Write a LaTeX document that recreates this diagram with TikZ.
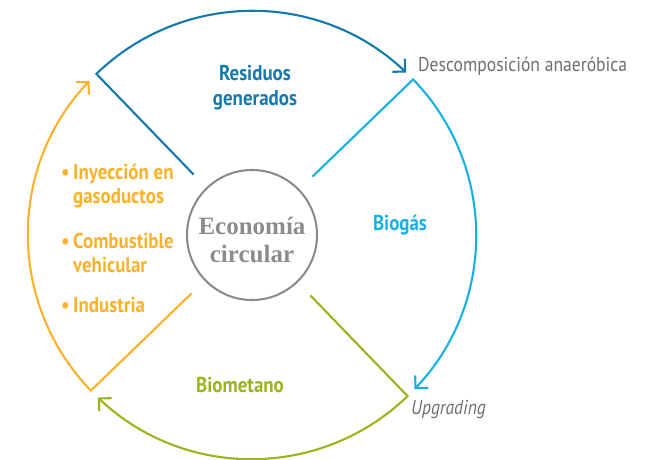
\documentclass[tikz,border=0pt]{standalone}
\usepackage{fontspec}
\setmainfont{PT Sans}[FakeStretch=0.88]
\newfontfamily\ecoserif{Liberation Serif}
\usetikzlibrary{arrows.meta,calc}
\definecolor{cDark}{HTML}{1479AC}
\definecolor{cLight}{HTML}{16B1E3}
\definecolor{cGreen}{HTML}{9AB41A}
\definecolor{cYellow}{HTML}{FBB229}
\definecolor{cGray}{HTML}{8C8C8C}
\definecolor{cText}{HTML}{6D6E71}
\begin{document}
\begin{tikzpicture}[x=1pt,y=1pt,
  seg/.style={line width=2.1pt,-{Straight Barb[length=9pt,width=18pt]}},
  lab/.style={font=\bfseries\fontsize{21.5}{25}\selectfont,align=center,inner sep=0pt},
  bul/.style={font=\bfseries\fontsize{21.5}{24}\selectfont,align=left,anchor=west,inner sep=0pt,text=cYellow},
  note/.style={font=\fontsize{20}{24}\selectfont,anchor=west,inner sep=0pt,text=cText}]
\useasboundingbox (0,0) rectangle (651,460);
\coordinate (C) at (252,225);
\node[circle,draw=cGray,line width=2.1pt,minimum size=130pt,inner sep=0pt] (eco) at (C) {};
\node[font=\ecoserif\bfseries\fontsize{25}{28}\selectfont,align=center,text=cGray,inner sep=0pt] (ecot) at (252,220) {Economía\\circular};
% sectors
\coordinate (a1) at ($(C)+(134:84)$);  \coordinate (a2) at ($(C)+(134:224)$);
\coordinate (b1) at ($(C)+(44:84)$);   \coordinate (b2) at ($(C)+(44:224)$);
\coordinate (c1) at ($(C)+(-46:84)$);  \coordinate (c2) at ($(C)+(-46:224)$);
\coordinate (e1) at ($(C)+(224:84)$);  \coordinate (e2) at ($(C)+(224:224)$);
\draw[seg,cDark] (a1) -- (a2) arc[start angle=134,end angle=46.5,radius=224];
\draw[seg,cLight] (b1) -- (b2) arc[start angle=44,end angle=-43.5,radius=224];
\draw[seg,cGreen] (c1) -- (c2) arc[start angle=-46,end angle=-133.5,radius=224];
\draw[seg,cYellow] (e1) -- (e2) arc[start angle=224,end angle=136.5,radius=224];
% labels
\node[lab,text=cDark] (res) at (255,372) {Residuos\\generados};
\node[lab,text=cLight] (bio) at (400,235) {Biogás};
\node[lab,text=cGreen] (met) at (240,75) {Biometano};
\node[note] (desc) at (418,394) {Descomposición anaeróbica};
\node[note,font=\itshape\fontsize{20}{24}\selectfont] (upg) at (411,50) {Upgrading};
\node[bul] (b1t) at (73,273.5) {\llap{•\,}Inyección en\\gasoductos};
\node[bul] (b2t) at (73,207.5) {\llap{•\,}Combustible\\vehicular};
\node[bul] (b3t) at (73,155) {\llap{•\,}Industria};
\end{tikzpicture}
\end{document}
